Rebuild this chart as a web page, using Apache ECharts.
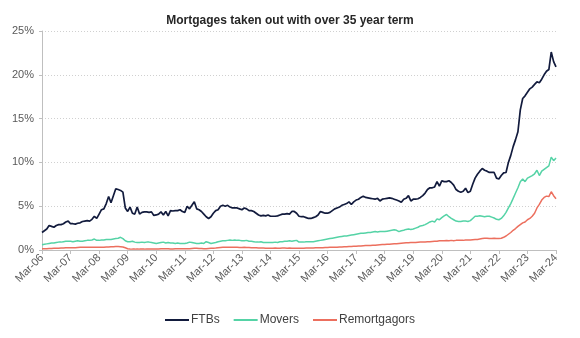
<!DOCTYPE html>
<html>
<head>
<meta charset="utf-8">
<script src="https://cdn.jsdelivr.net/npm/echarts@6/dist/echarts.min.js"></script>
<style>html,body{margin:0;padding:0;background:#fff}#c{width:580px;height:338px}</style>
</head>
<body>
<div id="c"></div>
<script>
// Monthly, Mar-06 .. Mar-24 (each row = Mar..Feb of the next year)
const startYear = 2006, startMonth = 2, nMonths = 217;
const monthNames = ['Jan','Feb','Mar','Apr','May','Jun','Jul','Aug','Sep','Oct','Nov','Dec'];
const categories = [];
for (let i = 0; i < nMonths; i++) {
  const m = (startMonth + i) % 12;
  const y = startYear + Math.floor((startMonth + i) / 12);
  categories.push(monthNames[m] + '-' + String(y % 100).padStart(2, '0'));
}

const ftbs = [
  2.0,2.2,2.4,2.8,2.7,2.6,2.8,2.9,2.9,3.0,3.2,3.3,
  3.0,3.0,2.95,3.05,3.1,3.25,3.3,3.35,3.3,3.5,3.85,3.6,
  4.1,4.6,4.7,5.3,6.1,5.4,6.2,7.0,6.9,6.8,6.6,4.8,
  4.4,4.9,4.2,4.1,4.9,4.1,4.3,4.35,4.35,4.3,4.35,3.95,
  4.0,4.1,4.35,4.0,4.4,3.9,4.5,4.45,4.5,4.5,4.6,4.4,
  4.3,5.0,4.7,5.1,5.5,4.7,4.6,4.4,4.1,3.8,3.6,3.8,
  4.2,4.5,4.6,5.0,5.1,5.0,5.1,4.9,4.8,4.8,4.8,4.7,
  4.6,4.8,4.7,4.5,4.5,4.4,4.2,4.0,3.9,3.95,3.9,4.0,
  3.85,3.85,3.85,3.9,4.0,4.1,4.1,4.15,4.1,4.4,4.4,4.2,
  3.85,3.8,3.8,3.7,3.6,3.6,3.7,3.8,4.0,4.4,4.3,4.2,
  4.2,4.3,4.5,4.7,4.8,4.9,5.1,5.2,5.3,5.5,5.2,5.5,
  5.7,5.8,6.0,6.15,6.0,5.95,5.9,5.85,5.8,5.9,5.6,5.8,
  5.85,5.9,5.95,5.9,5.8,5.7,5.6,5.45,5.8,5.9,6.2,5.6,
  5.8,5.8,5.85,6.0,6.2,6.5,6.9,7.1,7.1,7.2,7.8,7.3,
  7.9,7.8,7.8,7.9,7.7,7.4,6.9,6.7,6.6,6.7,7.05,6.55,
  6.7,7.5,8.2,8.65,9.0,9.3,9.1,9.0,8.85,8.85,8.85,8.2,
  8.1,8.5,8.8,8.85,10.0,10.8,11.8,12.6,13.5,16.0,17.3,17.6,
  18.0,18.4,18.6,18.9,19.2,19.1,19.5,20.0,20.4,20.6,22.6,21.5,
  20.9
];

const movers = [
  0.6,0.65,0.7,0.75,0.8,0.8,0.85,0.9,0.9,0.95,1.0,1.0,
  1.0,0.95,1.0,1.05,1.0,1.0,1.05,1.1,1.1,1.15,1.25,1.1,
  1.1,1.15,1.15,1.2,1.2,1.2,1.25,1.3,1.35,1.45,1.3,1.05,
  0.95,0.95,1.0,0.9,0.85,0.85,0.9,0.85,0.9,0.9,0.85,0.8,
  0.75,0.8,0.85,0.9,0.8,0.85,0.8,0.8,0.75,0.8,0.75,0.75,
  0.75,0.8,0.9,0.85,0.8,0.75,0.75,0.8,0.75,0.95,0.85,0.75,
  0.8,0.85,0.95,1.0,1.05,1.05,1.1,1.15,1.1,1.15,1.1,1.1,
  1.05,1.05,1.1,1.0,1.0,0.95,0.9,0.9,0.95,0.85,0.85,0.85,
  0.85,0.85,0.9,0.85,0.95,0.95,1.0,1.0,1.05,1.0,1.05,1.1,
  0.9,0.9,0.9,0.95,0.95,0.95,0.95,1.0,1.05,1.1,1.15,1.2,
  1.25,1.3,1.35,1.4,1.45,1.5,1.55,1.6,1.6,1.65,1.7,1.75,
  1.8,1.85,1.9,1.9,1.95,2.0,2.0,2.05,2.1,2.05,2.1,2.1,
  2.1,2.15,2.2,2.25,2.3,2.25,2.1,2.2,2.25,2.35,2.4,2.35,
  2.4,2.5,2.6,2.75,2.8,2.9,3.05,3.2,3.3,3.2,3.55,3.45,
  3.7,3.9,4.05,3.8,3.6,3.45,3.3,3.25,3.25,3.3,3.3,3.25,
  3.35,3.6,3.85,3.85,3.9,3.85,3.8,3.85,3.85,3.75,3.65,3.5,
  3.45,3.6,3.9,4.3,4.8,5.3,5.9,6.5,7.1,7.8,8.1,7.8,
  8.2,8.35,8.5,8.7,9.1,8.5,9.0,9.2,9.4,9.6,10.6,10.2,
  10.5
];

const remortgagors = [
  0.15,0.15,0.15,0.18,0.18,0.2,0.2,0.2,0.22,0.22,0.25,0.25,
  0.25,0.25,0.25,0.28,0.3,0.3,0.3,0.3,0.32,0.3,0.3,0.3,
  0.3,0.32,0.32,0.35,0.35,0.38,0.38,0.4,0.4,0.38,0.35,0.25,
  0.15,0.12,0.1,0.1,0.12,0.1,0.1,0.1,0.12,0.12,0.12,0.12,
  0.12,0.12,0.15,0.15,0.15,0.15,0.12,0.12,0.15,0.15,0.15,0.15,
  0.15,0.15,0.15,0.18,0.2,0.2,0.18,0.18,0.15,0.15,0.18,0.2,
  0.2,0.22,0.25,0.28,0.3,0.3,0.3,0.32,0.3,0.3,0.3,0.28,
  0.28,0.3,0.28,0.28,0.25,0.25,0.25,0.22,0.22,0.22,0.2,0.2,
  0.2,0.2,0.22,0.2,0.2,0.22,0.22,0.2,0.22,0.2,0.2,0.2,
  0.2,0.2,0.2,0.22,0.22,0.22,0.22,0.25,0.25,0.25,0.25,0.28,
  0.28,0.3,0.3,0.32,0.32,0.35,0.35,0.38,0.38,0.4,0.4,0.42,
  0.42,0.45,0.45,0.48,0.5,0.5,0.52,0.55,0.55,0.58,0.6,0.62,
  0.62,0.65,0.65,0.68,0.7,0.72,0.75,0.78,0.8,0.82,0.82,0.85,
  0.85,0.85,0.88,0.9,0.9,0.92,0.95,0.95,0.98,1.0,1.0,1.05,
  1.05,1.05,1.08,1.05,1.1,1.05,1.1,1.1,1.12,1.1,1.15,1.15,
  1.15,1.18,1.2,1.2,1.25,1.3,1.35,1.35,1.3,1.3,1.35,1.3,
  1.3,1.35,1.45,1.6,1.8,2.0,2.25,2.45,2.7,2.9,3.1,3.2,
  3.45,3.6,3.85,4.2,4.8,5.2,5.7,6.0,6.15,6.1,6.65,6.2,
  5.85
];

const yTicks = { min: 0, max: 25, interval: 5 };
const seriesNames = ['FTBs', 'Movers', 'Remortgagors'];
const seriesColors = ['#121b3d', '#55d3a6', '#ec6f5e'];
const seriesData = [ftbs, movers, remortgagors];

const font = 'Liberation Sans, Arial, sans-serif';
const chart = echarts.init(document.getElementById('c'), null, { renderer: 'canvas' });
chart.setOption({
  animation: false,
  backgroundColor: '#ffffff',
  title: {
    text: 'Mortgages taken out with over 35 year term',
    left: 'center', top: 10,
    textStyle: { fontFamily: font, fontSize: 12, fontWeight: 'bold', color: '#262626' }
  },
  legend: {
    bottom: 7, left: 'center',
    icon: 'rect',
    itemWidth: 24, itemHeight: 2, itemGap: 14,
    textStyle: { fontFamily: font, fontSize: 12, color: '#404040', padding: [0, 0, 0, -3] },
    data: seriesNames
  },
  grid: { left: 42, right: 24, top: 31, bottom: 88, containLabel: false },
  xAxis: {
    type: 'category',
    data: categories,
    boundaryGap: false,
    axisLine: { lineStyle: { color: '#bfbfbf', width: 1 } },
    axisTick: { show: true, length: 4, interval: (i) => i % 12 === 0, lineStyle: { color: '#bfbfbf' } },
    axisLabel: {
      interval: (i) => i % 12 === 0,
      rotate: 45, margin: 6,
      fontFamily: font, fontSize: 11, color: '#595959'
    },
    splitLine: { show: false }
  },
  yAxis: {
    type: 'value',
    min: yTicks.min, max: yTicks.max, interval: yTicks.interval,
    axisLine: { show: true, lineStyle: { color: '#bfbfbf', width: 1 } },
    axisTick: { show: true, length: 3, lineStyle: { color: '#bfbfbf' } },
    axisLabel: { formatter: '{value}%', fontFamily: font, fontSize: 11, color: '#595959', margin: 8 },
    splitLine: { show: true, lineStyle: { color: '#d0d0d0', type: [1, 2], width: 1 } }
  },
  series: seriesNames.map((name, k) => ({
    name: name,
    type: 'line',
    data: seriesData[k],
    symbol: 'none',
    smooth: false,
    z: 3 - k,
    color: seriesColors[k],
    lineStyle: { width: k === 0 ? 1.7 : 1.5, color: seriesColors[k] }
  }))
});
</script>
</body>
</html>
